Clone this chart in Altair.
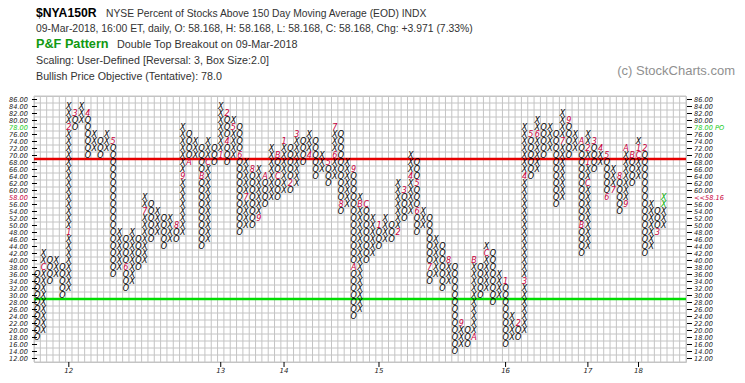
import altair as alt
import pandas as pd
import numpy as np

# ---------------- data ----------------
# P&F columns: first column is O, then they alternate X / O
col_low = [18, 20, 34, 36, 30, 32, 78, 80, 70, 72, 70, 72, 36, 38, 32, 34, 38, 40, 46, 48,
           44, 46, 46, 48, 68, 70, 44, 46, 68, 70, 68, 70, 48, 50, 50, 52, 56, 58, 58, 60,
           60, 62, 68, 70, 64, 66, 62, 64, 54, 56, 24, 26, 40, 42, 44, 46, 46, 48, 52, 54,
           48, 50, 34, 36, 32, 34, 14, 16, 16, 18, 30, 32, 28, 30, 16, 18, 18, 20, 64, 66,
           70, 72, 56, 58, 70, 72, 42, 44, 66, 68, 58, 60, 54, 56, 62, 64, 42, 44, 48, 50]
col_high = [36, 42, 40, 40, 38, 84, 82, 84, 82, 76, 74, 76, 74, 48, 46, 48, 46, 58, 56, 54,
            52, 52, 50, 78, 76, 74, 72, 74, 72, 84, 82, 80, 78, 68, 66, 66, 64, 72, 70, 74,
            72, 76, 74, 76, 74, 70, 68, 78, 76, 68, 66, 58, 56, 52, 50, 52, 50, 62, 60, 70,
            68, 54, 52, 46, 44, 40, 38, 22, 20, 40, 38, 44, 42, 36, 34, 24, 22, 78, 76, 80,
            78, 78, 76, 82, 80, 76, 74, 76, 74, 72, 70, 66, 64, 72, 70, 74, 72, 56, 54, 58]

# month markers (column, box value, label)
mark_col = [1, 5, 5, 6, 8, 12, 14, 17, 22, 23, 24, 26, 27, 29, 30, 30, 31, 32, 33, 34,
            35, 36, 38, 38, 39, 40, 41, 43, 46, 47, 47, 48, 50, 50, 51, 52, 54, 57, 58, 59,
            60, 60, 62, 65, 67, 69, 69, 71, 74, 76, 77, 77, 78, 79, 83, 84, 86, 86, 87, 87,
            87, 88, 89, 90, 90, 91, 92, 93, 93, 94, 95, 95, 96, 98]
mark_val = [38, 48, 78, 82, 82, 74, 38, 54, 50, 64, 68, 64, 68, 70, 82, 74, 78, 70, 58, 66,
            52, 64, 70, 64, 74, 62, 76, 70, 68, 70, 78, 56, 66, 38, 56, 56, 50, 48, 60, 64,
            62, 54, 38, 40, 22, 18, 40, 42, 34, 22, 34, 64, 76, 76, 74, 80, 74, 50, 62, 68,
            72, 74, 72, 70, 58, 60, 64, 56, 72, 70, 70, 72, 72, 48]
mark_txt = ["C", "1", "2", "3", "4", "5", "6", "7", "8", "9", "A", "B", "C", "1", "2", "4", "5", "6", "7", "8",
            "9", "A", "B", "C", "1", "2", "3", "4", "5", "6", "7", "8", "9", "A", "B", "C", "1", "2", "3", "4",
            "5", "6", "7", "8", "9", "A", "B", "C", "1", "2", "3", "4", "5", "6", "7", "9", "A", "B", "C", "1",
            "2", "3", "4", "5", "6", "7", "8", "9", "A", "B", "C", "1", "2", "3"]

# boxes added on the last day (drawn in green)
today_vals = [56, 58]

# year labels under the chart (column of the January marker)
year_col = [5, 29, 39, 54, 74, 87, 95]
year_txt = ["12", "13", "14", "15", "16", "17", "18"]

price_levels = list(range(12, 88, 2))
objective_level = 78
last_level = 58
last_close = "58.16"
overbought_level = 70
oversold_level = 30

# ---------------- build tables ----------------
marks = {(c, v): t for c, v, t in zip(mark_col, mark_val, mark_txt)}
last_col = len(col_low) - 1
rows = []
for i, (lo, hi) in enumerate(zip(col_low, col_high)):
    kind = "O" if i % 2 == 0 else "X"
    for v in range(lo, hi + 1, 2):
        if (i, v) in marks:
            rows.append({"col": i, "v": v, "sym": marks[(i, v)], "cls": "month"})
        elif i == last_col and v in today_vals:
            rows.append({"col": i, "v": v, "sym": kind, "cls": "today"})
        else:
            rows.append({"col": i, "v": v, "sym": kind, "cls": "box"})
boxes = pd.DataFrame(rows)

NCOLS = 103
W, H = 652, 266
xs = alt.Scale(domain=[-0.5, NCOLS - 0.5], range=[0, W], nice=False, zero=False)
ys = alt.Scale(domain=[11, 87], range=[H, 0], nice=False, zero=False)

FONT = "DejaVu Sans"
RED = "#c8003c"
GREEN = "#00b000"
GRID = "#c4c4c4"

vgrid = pd.DataFrame({"x": np.arange(-0.5, NCOLS, 1.0)})
hgrid = pd.DataFrame({"y": np.arange(11, 88, 2)})
vgrid_layer = alt.Chart(vgrid).mark_rule(color=GRID, strokeWidth=1).encode(
    x=alt.X("x:Q", scale=xs, axis=None))
hgrid_layer = alt.Chart(hgrid).mark_rule(color=GRID, strokeWidth=1).encode(
    y=alt.Y("y:Q", scale=ys, axis=None))


def sym(cls, color):
    return alt.Chart(boxes[boxes.cls == cls]).mark_text(
        font=FONT, fontStyle="italic", fontSize=8, baseline="middle",
        align="center", color=color).encode(
        x=alt.X("col:Q", scale=xs, axis=None),
        y=alt.Y("v:Q", scale=ys, axis=None),
        text="sym:N")


over_layer = alt.Chart(pd.DataFrame({"v": [overbought_level - 1]})).mark_rule(
    color="#e60000", strokeWidth=2.5).encode(y=alt.Y("v:Q", scale=ys, axis=None))
under_layer = alt.Chart(pd.DataFrame({"v": [oversold_level - 1]})).mark_rule(
    color="#00dd00", strokeWidth=2.5).encode(y=alt.Y("v:Q", scale=ys, axis=None))

lab = pd.DataFrame({"v": price_levels})
lab["left"] = [f"{v:.2f}" for v in price_levels]
lab["right"] = [("<<" + last_close) if v == last_level else
                (f"{v:.2f} PO" if v == objective_level else f"{v:.2f}") for v in price_levels]
lab["k"] = ["obj" if v == objective_level else ("last" if v == last_level else "n")
            for v in price_levels]
kcol = {"n": "#222222", "obj": "#22cc22", "last": RED}


def labels(side, k):
    d = lab[lab.k == k]
    xv = -25 if side == "left" else W + 8
    return alt.Chart(d).mark_text(font=FONT, fontStyle="italic", fontSize=6.6, align="left",
                                  baseline="middle", color=kcol[k]).encode(
        x=alt.value(xv), y=alt.Y("v:Q", scale=ys, axis=None), text=f"{side}:N")


label_layers = [labels(s, k) for s in ("left", "right") for k in ("n", "obj", "last")]
left_tick = alt.Chart(lab).mark_rule(color="#000", strokeWidth=1).encode(
    x=alt.value(-2), x2=alt.value(3), y=alt.Y("v:Q", scale=ys, axis=None))
right_tick = alt.Chart(lab).mark_rule(color="#000", strokeWidth=1).encode(
    x=alt.value(W + 1), x2=alt.value(W + 6), y=alt.Y("v:Q", scale=ys, axis=None))

yr = pd.DataFrame({"col": year_col, "t": year_txt})
year_lab = alt.Chart(yr).mark_text(font=FONT, fontStyle="italic", fontSize=7, baseline="top",
                                   color="#222").encode(
    x=alt.X("col:Q", scale=xs, axis=None), y=alt.value(H + 5), text="t:N")
year_tick = alt.Chart(yr).mark_rule(color="#000").encode(
    x=alt.X("col:Q", scale=xs, axis=None), y=alt.value(H), y2=alt.value(H + 5))

hdr_font = "Liberation Sans"


def txt(s, x, y, size=10.5, weight="normal", color="#333333"):
    return alt.Chart(pd.DataFrame({"t": [s]})).mark_text(
        font=hdr_font, fontSize=size, fontWeight=weight, color=color, align="left",
        baseline="alphabetic").encode(x=alt.value(x), y=alt.value(y), text="t:N")


header = [
    txt("$NYA150R", 2, -79, size=12.2, weight="bold", color="#000"),
    txt("NYSE Percent of Stocks Above 150 Day Moving Average (EOD)  INDX", 72, -79, size=10.3),
    txt("09-Mar-2018, 16:00 ET, daily, O: 58.168, H: 58.168, L: 58.168, C: 58.168, Chg: +3.971 (7.33%)",
        2, -64, size=10.4),
    txt("P&F Pattern", 2, -48, size=12.7, weight="bold", color="#119911"),
    txt("Double Top Breakout on 09-Mar-2018", 83, -48, size=10.8),
    txt("Scaling: User-Defined [Reversal: 3, Box Size:2.0]", 2, -32, size=10.7),
    txt("Bullish Price Objective (Tentative): 78.0", 2, -16, size=10.7),
]
copy = alt.Chart(pd.DataFrame({"t": ["(c) StockCharts.com"]})).mark_text(
    font=hdr_font, fontSize=13, color="#909090", align="right", baseline="alphabetic").encode(
    x=alt.value(701), y=alt.value(-21), text="t:N")

chart = alt.layer(vgrid_layer, hgrid_layer, over_layer, under_layer,
                  sym("box", "#000000"), sym("month", RED), sym("today", GREEN),
                  *label_layers, left_tick, right_tick, year_lab, year_tick,
                  *header, copy).properties(
    width=W, height=H, autosize="none",
    padding={"left": 26, "top": 88, "right": 51, "bottom": 13},
).configure_view(stroke=GRID, strokeWidth=1)

chart.save("out.html", embed_options={"renderer": "svg", "actions": False})
